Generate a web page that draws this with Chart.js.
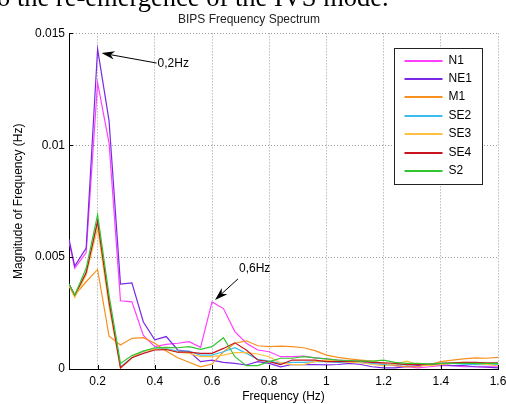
<!DOCTYPE html>
<html>
<head>
<meta charset="utf-8">
<script src="https://cdn.jsdelivr.net/npm/chart.js@4.4.1/dist/chart.umd.min.js"></script>
<style>
  html, body { margin: 0; padding: 0; background: #fff; }
  #wrap { position: relative; width: 506px; height: 404px; overflow: hidden; }
  #cap { position: absolute; left: -3px; top: -16px; font-family: "Liberation Serif", serif; font-size: 26.5px; line-height: 1; color: #000; white-space: nowrap; }
</style>
</head>
<body>
<div id="wrap">
  <canvas id="myChart" width="506" height="404"></canvas>
  <div id="cap">o the re-emergence of the IVS mode.</div>
</div>
<script>
// frequencies (Hz)
const freqs = [0.1, 0.12, 0.16, 0.2, 0.24, 0.28, 0.32, 0.36, 0.4, 0.44, 0.48, 0.52, 0.56, 0.6, 0.64, 0.68, 0.72, 0.76, 0.8,
               0.84, 0.88, 0.92, 0.96, 1.0, 1.04, 1.08, 1.12, 1.16, 1.2, 1.24, 1.28, 1.32, 1.36, 1.4, 1.44, 1.48, 1.52, 1.56, 1.6];

const n1  = [0.0057, 0.0045, 0.0052, 0.0128, 0.0101, 0.00305, 0.003, 0.0015, 0.001, 0.0011, 0.00115, 0.00122, 0.00097, 0.003, 0.0027, 0.00167, 0.00115, 0.00085, 0.00077,
             0.00055, 0.00055, 0.00058, 0.0005, 0.00045, 0.0004, 0.00035, 0.0003, 0.00028, 0.00022, 0.00015, 0.0001, 0.00005, 0.0001, 0.00015, 0.00015, 0.0001, 0.0001, 0.0001, 0.0001];
const ne1 = [0.0058, 0.0046, 0.0054, 0.0143, 0.0111, 0.0038, 0.00385, 0.0021, 0.0013, 0.00145, 0.00085, 0.00078, 0.00033, 0.0004, 0.0003, 0.00025, 0.00018, 0.00033, 0.00025,
             0.0001, 0.0002, 0.0002, 0.0002, 0.00018, 0.0002, 0.00025, 0.0002, 0.0001, 0.00005, 0.00005, 0.0001, 0.00015, 0.0002, 0.0002, 0.00015, 0.00015, 0.0001, 0.00008, 0.00005];
const m1  = [0.0038, 0.0033, 0.0039, 0.00445, 0.00147, 0.00107, 0.00137, 0.0014, 0.00115, 0.0008, 0.0005, 0.0003, 0.0001, 0.00022, 0.00077, 0.00115, 0.00126, 0.00104, 0.001,
             0.00102, 0.001, 0.00095, 0.00082, 0.00062, 0.00052, 0.00045, 0.0004, 0.00035, 0.00025, 0.00015, 0.0001, 0.0001, 0.0002, 0.00033, 0.0004, 0.00045, 0.0005, 0.00048, 0.00052];
const se2 = [0.0038, 0.0033, 0.0043, 0.0066, 0.0031, 0.0001, 0.0005, 0.0008, 0.0009, 0.0009, 0.0008, 0.0008, 0.00062, 0.00062, 0.00077, 0.00095, 0.0007, 0.00043, 0.00035,
             0.00025, 0.0003, 0.0003, 0.00033, 0.00033, 0.0003, 0.0003, 0.00028, 0.00025, 0.0002, 0.0002, 0.00018, 0.0002, 0.00022, 0.00025, 0.00025, 0.00022, 0.0002, 0.0002, 0.0002];
const se3 = [0.0037, 0.0032, 0.0042, 0.0063, 0.0028, 0.00003, 0.0005, 0.0008, 0.00088, 0.00088, 0.00075, 0.0007, 0.00055, 0.00055, 0.00062, 0.00073, 0.00073, 0.00067, 0.00055,
             0.00027, 0.0002, 0.0002, 0.00033, 0.0004, 0.00035, 0.0003, 0.00028, 0.0002, 0.00015, 0.0002, 0.00035, 0.0002, 0.00015, 0.0002, 0.00025, 0.0003, 0.00025, 0.0002, 0.00015];
const se4 = [0.0038, 0.0033, 0.0043, 0.0066, 0.003, 0.00005, 0.0005, 0.0007, 0.00085, 0.00087, 0.00075, 0.00075, 0.0007, 0.0007, 0.00092, 0.00117, 0.00085, 0.0004, 0.00033,
             0.0002, 0.0004, 0.0004, 0.0004, 0.00033, 0.00033, 0.00035, 0.00035, 0.0003, 0.00028, 0.00025, 0.0002, 0.0002, 0.00022, 0.00025, 0.00028, 0.0003, 0.0003, 0.00028, 0.00028];
const s2  = [0.0038, 0.0033, 0.0045, 0.0069, 0.0033, 0.00025, 0.0006, 0.0008, 0.00095, 0.00097, 0.00095, 0.001, 0.00088, 0.001, 0.0014, 0.00055, 0.00015, 0.00015, 0.00033,
             0.00048, 0.00048, 0.00055, 0.0005, 0.00045, 0.0004, 0.00038, 0.00035, 0.00035, 0.0004, 0.0003, 0.00025, 0.00025, 0.00022, 0.00025, 0.00025, 0.00025, 0.00025, 0.00025, 0.00025];

const seriesNames  = ['N1', 'NE1', 'M1', 'SE2', 'SE3', 'SE4', 'S2'];
const seriesValues = [n1, ne1, m1, se2, se3, se4, s2];
const seriesColors = ['#ff40ff', '#7a28e6', '#f7901e', '#3cbff0', '#ffc040', '#c8141e', '#33c633'];

const xTicks = [0.2, 0.4, 0.6, 0.8, 1.0, 1.2, 1.4, 1.6];
const yTicks = [0, 0.005, 0.01, 0.015];

// arrow labels: [text, frequency, series index]
const notes = [['0,2Hz', 0.2, 1], ['0,6Hz', 0.6, 0]];

Chart.defaults.font.family = "'Liberation Sans', Arial, sans-serif";
Chart.defaults.font.size = 12;
Chart.defaults.color = '#000';

function drawArrow(ctx, x0, y0, x1, y1) {
    const ang = Math.atan2(y1 - y0, x1 - x0);
    const len = 13, half = 4.2;
    ctx.beginPath();
    ctx.moveTo(x0, y0);
    ctx.lineTo(x1 - Math.cos(ang) * len * 0.7, y1 - Math.sin(ang) * len * 0.7);
    ctx.stroke();
    const bx = x1 - Math.cos(ang) * len, by = y1 - Math.sin(ang) * len;
    const nx = x1 - Math.cos(ang) * len * 0.7, ny = y1 - Math.sin(ang) * len * 0.7;
    ctx.beginPath();
    ctx.moveTo(x1, y1);
    ctx.lineTo(bx - Math.sin(ang) * half, by + Math.cos(ang) * half);
    ctx.lineTo(nx, ny);
    ctx.lineTo(bx + Math.sin(ang) * half, by - Math.cos(ang) * half);
    ctx.closePath();
    ctx.fill();
}

const extras = {
    id: 'extras',
    afterDraw(chart) {
        const {ctx, chartArea: a, scales: {x, y}} = chart;
        ctx.save();
        // inward tick marks
        ctx.strokeStyle = '#000';
        ctx.lineWidth = 1;
        ctx.beginPath();
        xTicks.forEach(v => {
            const px = Math.round(x.getPixelForValue(v)) + 0.5;
            ctx.moveTo(px, a.bottom);
            ctx.lineTo(px, a.bottom - 4);
        });
        yTicks.forEach(v => {
            const py = Math.round(y.getPixelForValue(v)) + 0.5;
            ctx.moveTo(a.left, py);
            ctx.lineTo(a.left + 4, py);
        });
        ctx.stroke();

        // legend box
        const lx = Math.round(a.right - 104) + 0.5, ly = Math.round(a.top + 15) + 0.5;
        const lw = 88, lh = 136;
        ctx.fillStyle = '#fff';
        ctx.fillRect(lx, ly, lw, lh);
        ctx.strokeStyle = '#222';
        ctx.lineWidth = 1;
        ctx.strokeRect(lx, ly, lw, lh);
        ctx.font = "12px 'Liberation Sans', Arial, sans-serif";
        ctx.textBaseline = 'middle';
        ctx.textAlign = 'left';
        seriesNames.forEach((name, i) => {
            const ry = Math.round(ly + 12 + i * 18.4);
            ctx.fillStyle = seriesColors[i];
            ctx.fillRect(lx + 10, ry - 1, 38, 2);
            ctx.fillStyle = '#000';
            ctx.fillText(name, lx + 54, ry);
        });

        // arrow annotations
        ctx.strokeStyle = '#000';
        ctx.fillStyle = '#000';
        ctx.lineWidth = 1;
        notes.forEach(([txt, f, si], k) => {
            const idx = freqs.indexOf(f);
            const px = x.getPixelForValue(f);
            const py = y.getPixelForValue(seriesValues[si][idx]);
            let tip, tail, tpos;
            if (k === 0) {
                tip = [px + 4, py + 4];
                tail = [tip[0] + 55, tip[1] + 10];
                tpos = [tail[0] + 1, tail[1] + 1];
            } else {
                tip = [px + 3, py - 2];
                tail = [tip[0] + 23, tip[1] - 21];
                tpos = [tail[0] + 1, tail[1] - 10];
            }
            drawArrow(ctx, tail[0], tail[1], tip[0], tip[1]);
            ctx.textBaseline = 'middle';
            ctx.fillText(txt, tpos[0], tpos[1]);
        });
        ctx.restore();
    }
};

const ctx = document.getElementById('myChart').getContext('2d');
new Chart(ctx, {
    type: 'line',
    data: {
        datasets: seriesNames.map((name, i) => ({
            label: name,
            data: freqs.map((f, j) => ({x: f, y: seriesValues[i][j]})),
            borderColor: seriesColors[i],
            backgroundColor: seriesColors[i],
            borderWidth: 1.2,
            pointRadius: 0,
            tension: 0,
            fill: false,
            order: seriesNames.length - i
        }))
    },
    options: {
        responsive: false,
        animation: false,
        layout: { padding: { left: 0, right: 8, top: 0, bottom: 0 } },
        plugins: {
            legend: { display: false },
            tooltip: { enabled: false },
            title: {
                display: true,
                text: 'BIPS Frequency Spectrum',
                color: '#222',
                font: { size: 12, weight: 'normal' },
                padding: { top: 12, bottom: 7 }
            }
        },
        scales: {
            x: {
                type: 'linear',
                min: 0.1,
                max: 1.6,
                afterBuildTicks: s => { s.ticks = xTicks.map(v => ({value: v})); },
                afterFit: s => { s.height = 35; s.paddingLeft = 0; s.paddingRight = 0; },
                ticks: {
                    padding: 5,
                    maxRotation: 0,
                    color: '#000',
                    callback: v => String(+Number(v).toFixed(1))
                },
                grid: { color: '#9a9a9a', drawTicks: false },
                border: { color: '#000', width: 1, dash: [1, 2] },
                title: {
                    display: true,
                    text: 'Frequency (Hz)',
                    color: '#000',
                    padding: { top: 0, bottom: 0 }
                }
            },
            y: {
                min: 0,
                max: 0.015,
                afterBuildTicks: s => { s.ticks = yTicks.map(v => ({value: v})); },
                afterFit: s => { s.width = 69; },
                ticks: {
                    padding: 4,
                    color: '#000',
                    callback: v => String(+Number(v).toFixed(3))
                },
                grid: { color: '#9a9a9a', drawTicks: false },
                border: { color: '#000', width: 1, dash: [1, 2] },
                title: {
                    display: true,
                    text: 'Magnitude of Frequency (Hz)',
                    color: '#000',
                    padding: { top: 11, bottom: 0 }
                }
            }
        }
    },
    plugins: [extras]
});
</script>
</body>
</html>
